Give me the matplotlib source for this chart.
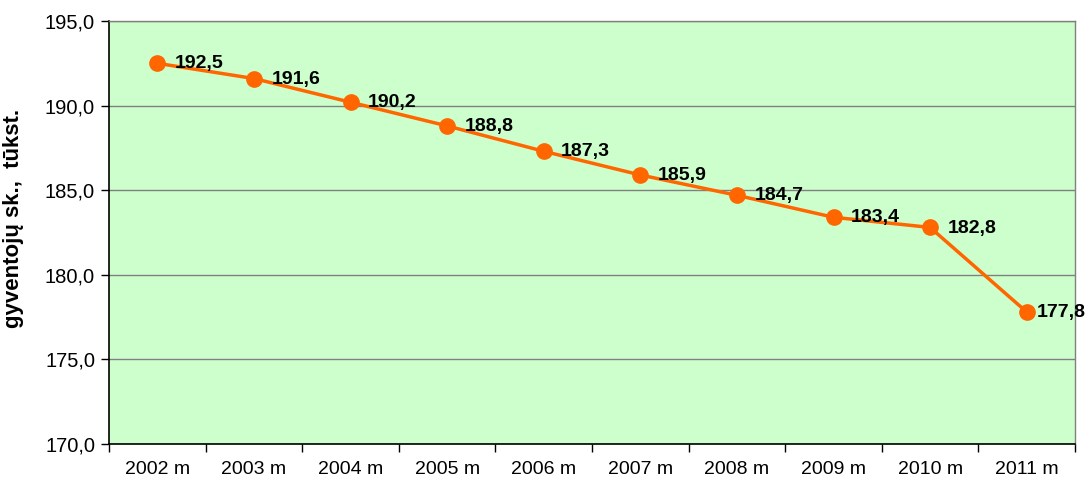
import matplotlib.pyplot as plt

plt.rcParams['font.family'] = ['Liberation Sans', 'DejaVu Sans']

metai = ["2002 m", "2003 m", "2004 m", "2005 m", "2006 m", "2007 m", "2008 m", "2009 m", "2010 m", "2011 m"]
gyventojai = [192.5, 191.6, 190.2, 188.8, 187.3, 185.9, 184.7, 183.4, 182.8, 177.8]
y_ticks = [170, 175, 180, 185, 190, 195]

fig = plt.figure(figsize=(10.89, 4.83), dpi=100)
ax = fig.add_axes([109 / 1089, 39 / 483, 966 / 1089, 423 / 483])
ax.set_facecolor("#CCFFCC")

x = list(range(len(metai)))
ax.plot(x, gyventojai, color="#FF6600", lw=2.5, marker="o", ms=11, zorder=3)

for i, v in enumerate(gyventojai):
    # paskutinė etiketė prispausta prie krašto
    dx = 7 if i == len(gyventojai) - 1 else 12.5
    ax.annotate(f"{v:.1f}".replace(".", ","), (i, v), xytext=(dx, -0.5),
                textcoords="offset points", ha="left", va="center",
                fontsize=14, fontweight="bold", zorder=4, annotation_clip=False)

ax.set_xlim(-0.5, len(metai) - 0.5)
ax.set_ylim(170, 195)
ax.set_yticks(y_ticks)
ax.set_yticklabels([f"{t:.1f}".replace(".", ",") for t in y_ticks], fontsize=14.5)
ax.yaxis.grid(True, color="#808080", lw=1)
ax.set_axisbelow(True)

ax.set_xticks(x)
ax.set_xticklabels(metai, fontsize=14)
ax.set_xticks([i - 0.5 for i in range(len(metai) + 1)], minor=True)
ax.tick_params(axis="x", which="major", length=0, pad=12)
ax.tick_params(axis="x", which="minor", length=6, width=1, direction="out")
ax.tick_params(axis="y", length=6, width=1, direction="out", pad=4)

ax.set_ylabel("gyventojų sk.,  tūkst.", fontsize=16, fontweight="bold")
ax.yaxis.set_label_coords(-0.088, 0.534)

for s in ["left", "bottom"]:
    ax.spines[s].set_color("black")
    ax.spines[s].set_linewidth(1.2)
for s in ["top", "right"]:
    ax.spines[s].set_color("#808080")
    ax.spines[s].set_linewidth(1)

fig.savefig("out.png", dpi=100)
